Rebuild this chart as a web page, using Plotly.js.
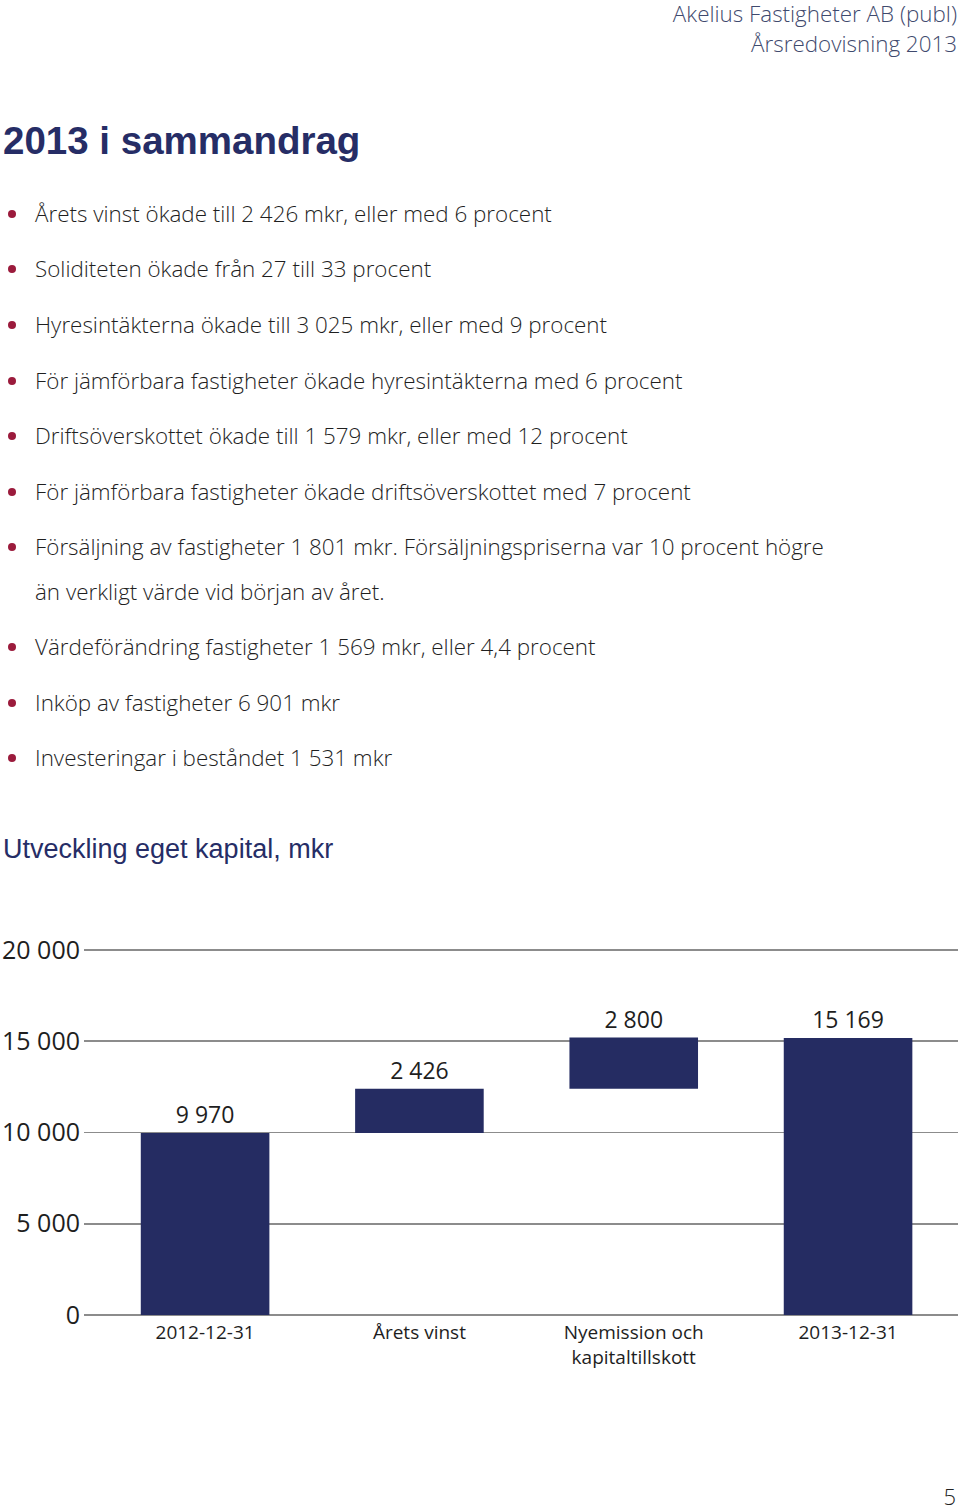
<!DOCTYPE html>
<html>
<head>
<meta charset="utf-8">
<script src="https://cdn.plot.ly/plotly-3.0.1.min.js"></script>
<style>
  html, body { margin:0; padding:0; background:#fff; }
  body { width:960px; height:1510px; position:relative; overflow:hidden; font-family:"Open Sans", sans-serif; }
  .hdr { position:absolute; right:3px; font-size:22.4px; color:#3f4a6e; line-height:28px; white-space:nowrap; font-weight:300; }
  .h1 { position:absolute; left:3px; top:116px; font-family:"Liberation Sans", Arial, sans-serif; font-weight:bold; font-size:38.5px; line-height:50px; color:#262d66; white-space:nowrap; }
  .h2 { position:absolute; left:3px; top:832px; font-family:"Liberation Sans", Arial, sans-serif; font-size:27px; line-height:34px; color:#262d66; white-space:nowrap; }
  .bl { position:absolute; left:35px; font-size:22.4px; line-height:30px; color:#1f1f1f; white-space:nowrap; font-weight:300; }
  .dot { position:absolute; left:8px; width:8px; height:8px; border-radius:50%; background:#9b1b3c; }
  .pg { position:absolute; right:4px; top:1482px; font-size:22px; line-height:28px; color:#222; font-weight:300; }
  #chart { position:absolute; left:0; top:880px; width:960px; height:520px; }
</style>
</head>
<body>
<div class="hdr" style="top:0px">Akelius Fastigheter AB (publ)</div>
<div class="hdr" style="top:30px">Årsredovisning 2013</div>
<div class="h1">2013 i sammandrag</div>
<div id="bullets"></div>
<div class="h2">Utveckling eget kapital, mkr</div>
<div id="chart"></div>
<div class="pg">5</div>
<script>
// ---- Page text ----
const bulletLines = [
  "Årets vinst ökade till 2 426 mkr, eller med 6 procent",
  "Soliditeten ökade från 27 till 33 procent",
  "Hyresintäkterna ökade till 3 025 mkr, eller med 9 procent",
  "För jämförbara fastigheter ökade hyresintäkterna med 6 procent",
  "Driftsöverskottet ökade till 1 579 mkr, eller med 12 procent",
  "För jämförbara fastigheter ökade driftsöverskottet med 7 procent",
  "Försäljning av fastigheter 1 801 mkr. Försäljningspriserna var 10 procent högre",
  "än verkligt värde vid början av året.",
  "Värdeförändring fastigheter 1 569 mkr, eller 4,4 procent",
  "Inköp av fastigheter 6 901 mkr",
  "Investeringar i beståndet 1 531 mkr"
];
const bulletHasDot = [true,true,true,true,true,true,true,false,true,true,true];
const bulletY = [214,269,325,381,436,492,547,592,647,703,758];
const bc = document.getElementById('bullets');
bulletLines.forEach((t,i)=>{
  const d = document.createElement('div');
  d.className='bl'; d.textContent=t; d.style.top=(bulletY[i]-15)+'px';
  bc.appendChild(d);
  if (bulletHasDot[i]) {
    const p = document.createElement('div');
    p.className='dot'; p.style.top=(bulletY[i]-4)+'px';
    bc.appendChild(p);
  }
});

// ---- Chart data ----
const categories = ["2012-12-31", "Årets vinst", "Nyemission och<br>kapitaltillskott", "2013-12-31"];
const values = [9970, 2426, 2800, 15169];
const measures = ["absolute", "relative", "relative", "absolute"];
const yTickVals = [0, 5000, 10000, 15000, 20000];
const yTickText = ["0", "5 000", "10 000", "15 000", "20 000"];

function fmt(v){ return String(v).replace(/\B(?=(\d{3})+(?!\d))/g,' '); }
let running = 0;
const bases = [];
values.forEach((v,i)=>{
  if (measures[i]==='absolute'){ bases.push(0); running = v; }
  else { bases.push(running); running += v; }
});
const xs = categories.map((c,i)=>i);

const trace = {
  type:'bar', x: xs, y: values, base: bases,
  width: 0.6,
  marker:{color:'#252c62', line:{width:0}},
  text: values.map(fmt), textposition:'outside', cliponaxis:false,
  textfont:{family:'"Open Sans", sans-serif', size:23, color:'#1e1e1e'},
  hoverinfo:'skip'
};
const layout = {
  width:960, height:520,
  margin:{l:84, r:2, t:68, b:85},
  paper_bgcolor:'rgba(0,0,0,0)', plot_bgcolor:'rgba(0,0,0,0)',
  showlegend:false,
  font:{family:'"Open Sans", sans-serif', color:'#1e1e1e'},
  xaxis:{range:[-0.565, 3.513], tickvals:xs, ticktext:categories, showgrid:false, zeroline:false, showline:false,
         ticks:'', tickfont:{size:19, color:'#1e1e1e'}, ticklabelstandoff:4, fixedrange:true},
  yaxis:{range:[0, 20100], tickvals:yTickVals, ticktext:yTickText, showgrid:true, gridcolor:'#8c8c8c', gridwidth:1.6,
         zeroline:true, zerolinecolor:'#8c8c8c', zerolinewidth:1.6, showline:false, ticks:'',
         tickfont:{size:25, color:'#1e1e1e'}, ticklabelstandoff:3, fixedrange:true}
};
Plotly.newPlot('chart', [trace], layout, {displayModeBar:false, staticPlot:true});
</script>
</body>
</html>
